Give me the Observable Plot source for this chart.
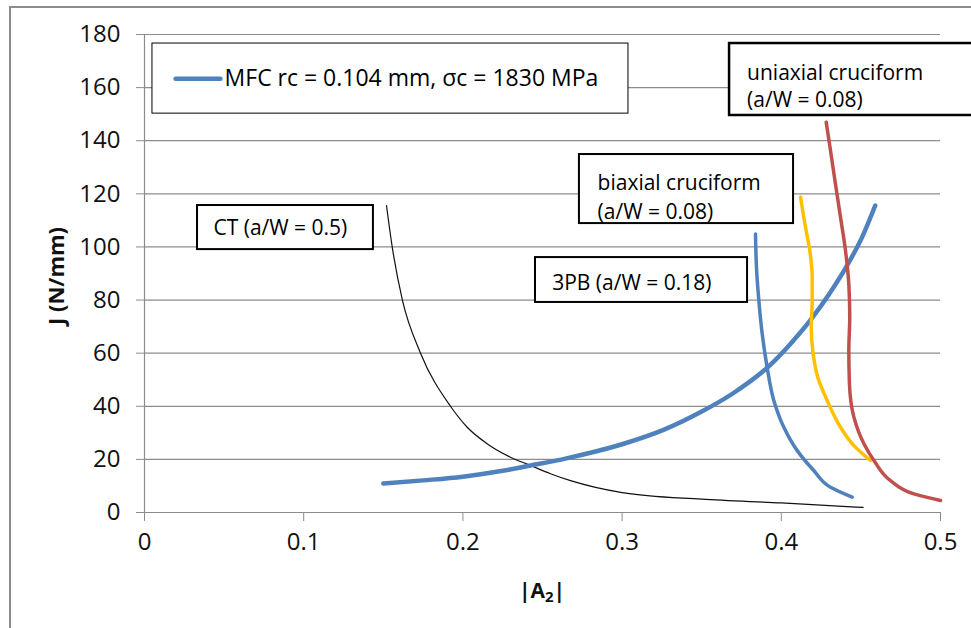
<!DOCTYPE html>
<html><head><meta charset="utf-8">
<script src="https://cdn.jsdelivr.net/npm/d3@7"></script>
<script src="https://cdn.jsdelivr.net/npm/@observablehq/plot@0.6"></script>
<style>
body{margin:0;background:#fff;}
#chart svg{display:block;}
</style>
</head><body><div id="chart"></div>
<script>
// ---- data ----
const xTicks = [0, 0.1, 0.2, 0.3, 0.4, 0.5];
const yTicks = [0, 20, 40, 60, 80, 100, 120, 140, 160, 180];

const mfcA2 = [0.150, 0.175, 0.200, 0.225, 0.2425, 0.265, 0.300, 0.326, 0.350, 0.370, 0.3926, 0.405, 0.419, 0.430, 0.442, 0.451, 0.459];
const mfcJ  = [10.9, 12.1, 13.5, 15.7, 17.7, 20.4, 25.7, 31.1, 38.0, 45.0, 55.3, 63.0, 73.0, 82.2, 93.7, 104.0, 115.6];

const ctA2 = [0.1520, 0.1556, 0.1620, 0.1734, 0.1922, 0.2027, 0.2152, 0.2299, 0.2425, 0.2550, 0.2676, 0.300, 0.350, 0.400, 0.4514];
const ctJ  = [115.6, 100.0, 80.0, 60.0, 40.0, 32.1, 25.9, 20.8, 17.7, 14.6, 12.0, 7.5, 5.0, 3.6, 1.9];

const pbA2 = [0.3838, 0.3844, 0.3859, 0.3880, 0.3911, 0.3953, 0.4016, 0.4100, 0.4204, 0.4309, 0.4445];
const pbJ  = [104.9, 92.4, 79.8, 67.3, 54.7, 42.2, 32.1, 23.3, 15.8, 9.5, 5.8];

const biA2 = [0.4121, 0.4152, 0.4179, 0.4194, 0.4194, 0.4188, 0.4200, 0.4229, 0.4288, 0.4372, 0.4456, 0.4560];
const biJ  = [118.7, 107.4, 98.6, 88.6, 79.8, 69.8, 59.8, 50.9, 42.2, 32.1, 25.2, 19.6];

const uniA2 = [0.4282, 0.4309, 0.4340, 0.4372, 0.4403, 0.4424, 0.4430, 0.4424, 0.4428, 0.4456, 0.4519, 0.4582, 0.4686, 0.4833, 0.5000];
const uniJ  = [147.0, 136.3, 123.8, 111.2, 98.7, 86.1, 73.6, 61.0, 48.5, 35.9, 25.9, 19.6, 12.0, 7.0, 4.5];

const legendLabel = "MFC rc = 0.104 mm, \u03c3c = 1830 MPa";
const annotationLabels = ["uniaxial cruciform\n(a/W = 0.08)", "biaxial cruciform\n(a/W = 0.08)", "3PB (a/W = 0.18)", "CT (a/W = 0.5)"];

// ---- build tables ----
const toRows = (xs, ys) => xs.map((x, i) => ({a2: x, j: ys[i]}));
const mfc = toRows(mfcA2, mfcJ);
const ct = toRows(ctA2, ctJ);
const pb = toRows(pbA2, pbJ);
const bi = toRows(biA2, biJ);
const uni = toRows(uniA2, uniJ);

// ---- layout (data units) for annotation boxes ----
const boxes = [
  {x1: 0.0050, x2: 0.3040, y1: 150.2, y2: 176.6, sw: 1},
  {x1: 0.3675, x2: 0.5400, y1: 149.5, y2: 176.6, sw: 2.5},
  {x1: 0.2732, x2: 0.4077, y1: 108.8, y2: 134.8, sw: 2},
  {x1: 0.2456, x2: 0.3788, y1: 79.1, y2: 96.0, sw: 2},
  {x1: 0.0333, x2: 0.1438, y1: 99.0, y2: 115.6, sw: 2}
];
const labelPos = [
  {x: 0.3785, y: 161.2, lh: 1.3},
  {x: 0.2846, y: 119.4, lh: 1.35},
  {x: 0.2561, y: 86.9, lh: 1.2},
  {x: 0.0433, y: 107.4, lh: 1.2}
];
const labels = annotationLabels.map((t, i) => ({...labelPos[i], text: t}));

const BLUE = "#4F81BD", RED = "#C0504D", GOLD = "#FFC000";

const plot = Plot.plot({
  width: 971,
  height: 628,
  marginLeft: 144,
  marginRight: 31,
  marginTop: 34,
  marginBottom: 116,
  style: {fontFamily: "'Open Sans', sans-serif", fontSize: "24px", color: "#111", background: "#fff"},
  x: {domain: [0, 0.5]},
  y: {domain: [0, 180]},
  marks: [
    Plot.gridY(yTicks.filter(d => d > 0), {stroke: "#8c8c8c", strokeOpacity: 1, strokeWidth: 1.2}),
    Plot.ruleX([0], {stroke: "#8c8c8c", strokeWidth: 1.2}),
    Plot.ruleY([0], {stroke: "#8c8c8c", strokeWidth: 1.2}),
    Plot.axisY(yTicks, {tickSize: 8, tickPadding: 16, stroke: "#8c8c8c", fill: "#111", label: null, tickFormat: d => String(d), fontSize: 24}),
    Plot.axisX(xTicks, {tickSize: 9, tickPadding: 11, stroke: "#8c8c8c", fill: "#111", label: null, tickFormat: d => String(d), fontSize: 24}),
    Plot.line(ct, {x: "a2", y: "j", stroke: "#111", strokeWidth: 1.2, curve: "monotone-x"}),
    Plot.line(mfc, {x: "a2", y: "j", stroke: BLUE, strokeWidth: 4.5, curve: "monotone-x"}),
    Plot.line(pb, {x: "a2", y: "j", stroke: BLUE, strokeWidth: 3.5, curve: "monotone-y"}),
    Plot.line(bi, {x: "a2", y: "j", stroke: GOLD, strokeWidth: 3.5, curve: "monotone-y"}),
    Plot.line(uni, {x: "a2", y: "j", stroke: RED, strokeWidth: 3.5, curve: "monotone-y"}),
    Plot.rect(boxes, {x1: "x1", x2: "x2", y1: "y1", y2: "y2", fill: "white", stroke: "#000", strokeWidth: d => d.sw}),
    // legend sample + text
    Plot.line([{a2: 0.0195, j: 163.3}, {a2: 0.0477, j: 163.3}], {x: "a2", y: "j", stroke: BLUE, strokeWidth: 4.5}),
    Plot.text([legendLabel], {x: 0.0503, y: 163.3, text: d => d, textAnchor: "start", lineAnchor: "middle", fontSize: 23, fill: "#000"}),
    ...labels.map(l => Plot.text([l], {x: "x", y: "y", text: "text", textAnchor: "start", lineAnchor: "middle", fontSize: 21, lineHeight: l.lh, fill: "#000"}))
  ]
});

const svg = d3.select(plot);
// outer chart-area border
svg.append("rect").attr("x", 10).attr("y", 7).attr("width", 1000).attr("height", 700)
  .attr("fill", "none").attr("stroke", "#8c8c8c").attr("stroke-width", 2);
// axis titles
svg.append("text").attr("transform", "translate(55,276) rotate(-90)")
  .attr("text-anchor", "middle").attr("dominant-baseline", "central")
  .attr("font-family", "'Open Sans', sans-serif").attr("font-weight", "bold").attr("font-size", 22).attr("fill", "#111")
  .text("J (N/mm)");
const xt = svg.append("text").attr("x", 542).attr("y", 598)
  .attr("text-anchor", "middle")
  .attr("font-family", "'Open Sans', sans-serif").attr("font-weight", "bold").attr("font-size", 21).attr("fill", "#111");
xt.append("tspan").text("|A");
xt.append("tspan").attr("font-size", 15).attr("dy", 4).text("2");
xt.append("tspan").attr("dy", -4).text("|");

document.getElementById("chart").appendChild(plot);
</script>
</body></html>
